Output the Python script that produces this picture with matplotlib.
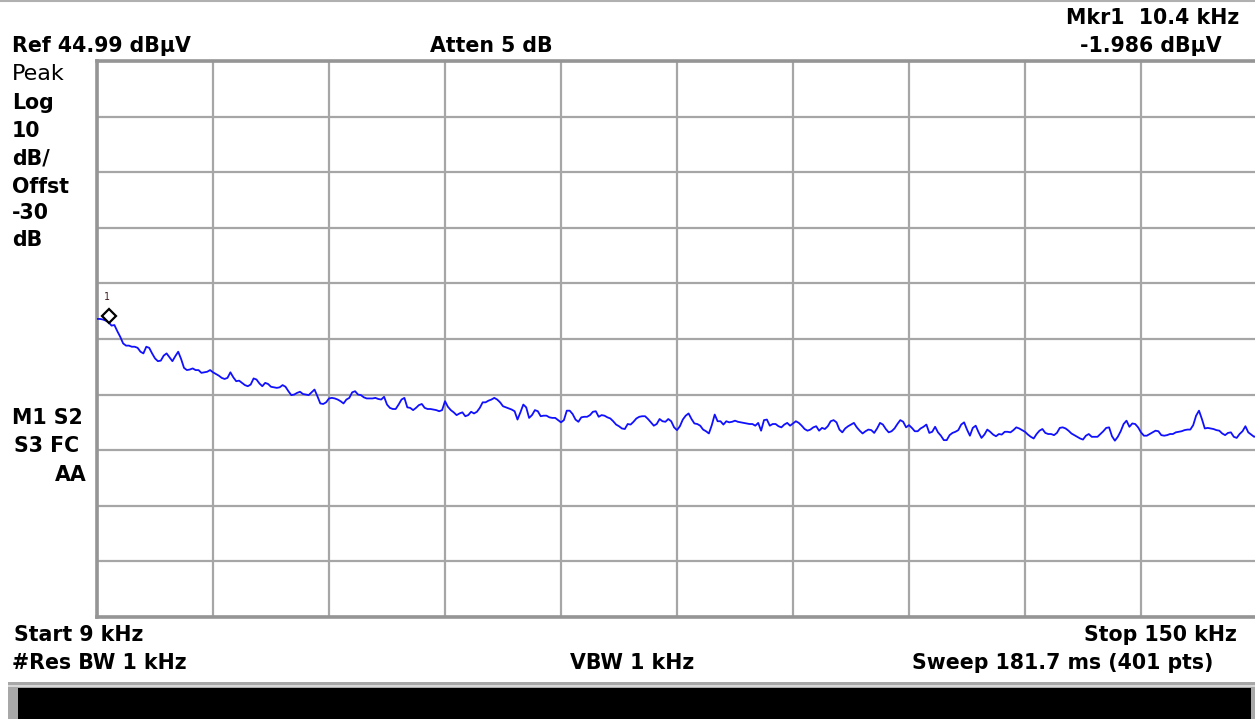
import numpy as np
import matplotlib
matplotlib.use("Agg")
import matplotlib.pyplot as plt
from matplotlib.patches import Rectangle
from matplotlib.lines import Line2D

# ---------------- data ----------------
start_khz = 9.0
stop_khz = 150.0
n_pts = 401
ref_level = 44.99          # dBuV (top of screen)
db_per_div = 10.0
n_div = 10
marker_freq = 10.4         # kHz
marker_level = -1.986      # dBuV

trace_part1 = [
    -1.4, -1.4, -1.5, -1.7, -1.99, -2.6, -2.5, -3.6, -4.6, -5.8,
    -6.2, -6.2, -6.4, -6.4, -6.6, -7.3, -7.6, -6.4, -6.6, -7.6,
    -8.5, -9.0, -8.9, -8.0, -7.6, -8.3, -9.0, -8.1, -7.3, -8.6,
    -10.2, -10.6, -10.5, -10.3, -10.6, -10.6, -11.1, -11.0, -10.9, -10.6,
    -11.0, -11.3, -11.6, -12.0, -12.2, -12.0, -11.0, -11.9, -12.6, -12.5,
    -12.9, -13.3, -13.5, -13.2, -12.1, -12.3, -13.0, -13.5, -12.9, -13.1,
    -13.6, -13.7, -13.8, -13.7, -13.3, -13.6, -14.4, -15.1, -15.0, -14.7,
    -14.5, -14.9, -15.0, -15.1, -14.6, -14.1, -15.3, -16.6, -16.7, -16.4,
    -15.7, -15.6, -15.7, -15.9, -16.2, -16.6, -15.9, -15.6, -14.6, -14.4,
    -15.0, -15.1, -15.5, -15.7, -15.7, -15.7, -15.6, -15.8, -15.9, -15.4,
]
trace_part2 = [
    -16.8, -17.4, -17.6, -17.6, -16.8, -15.9, -15.6, -17.3, -17.4, -17.8,
    -17.4, -16.9, -16.7, -17.4, -17.6, -17.6, -17.7, -17.8, -18.0, -17.8,
    -16.2, -17.2, -17.8, -18.2, -18.7, -18.4, -18.2, -18.9, -18.7, -18.1,
    -18.4, -18.1, -17.4, -16.4, -16.4, -16.1, -15.9, -15.6, -15.9, -16.4,
    -17.1, -17.3, -17.5, -17.7, -18.0, -19.5, -18.2, -16.8, -17.3, -19.2,
    -18.7, -17.8, -18.0, -18.9, -18.8, -18.8, -19.1, -19.2, -19.2, -19.6,
    -20.0, -19.6, -17.9, -17.9, -18.5, -19.5, -19.9, -19.1, -19.0, -19.0,
    -18.7, -18.1, -18.0, -19.0, -18.7, -18.8, -19.1, -19.3, -19.8, -20.4,
    -20.7, -21.1, -21.2, -20.3, -20.4, -19.9, -19.3, -19.0, -18.9, -18.9,
    -19.4, -20.0, -20.6, -20.3, -19.4, -19.8, -19.9,
]
trace_part3 = [
    -19.4, -19.8, -20.9, -21.4, -20.7, -19.5, -18.8, -18.4, -19.4, -20.2,
    -20.3, -20.6, -21.3, -21.6, -22.0, -20.5, -18.6, -19.8, -19.8, -20.4,
    -19.8, -20.0, -19.9, -19.7, -19.9, -20.0, -20.1, -20.2, -20.3, -20.3,
    -20.6, -20.1, -21.5, -19.6, -19.5, -20.6, -20.3, -20.3, -20.7, -20.9,
    -20.4, -20.1, -20.6, -20.2, -19.8, -20.1, -20.6, -21.2, -21.5, -21.3,
    -20.9, -20.7, -21.5, -21.0, -21.2, -20.7, -19.8, -19.6, -20.0, -21.3,
    -21.8, -21.1, -20.7, -20.4, -20.1, -20.9, -21.5, -22.0, -21.6, -21.3,
    -21.4, -21.9, -21.1, -20.1, -20.4, -21.2, -21.8, -21.6, -21.1, -20.3,
    -19.6, -19.9, -20.9, -20.5, -21.0, -21.6, -21.6, -21.1, -20.8, -20.4,
    -21.9, -21.7, -20.8, -21.8, -22.4, -23.2, -23.2, -22.3, -21.9, -21.7,
    -21.4,
]
trace_part4 = [
    -20.4, -20.0, -21.3, -22.4, -21.0, -20.6, -21.8, -22.8, -22.2, -21.3,
    -21.7, -22.2, -22.5, -22.1, -22.2, -21.7, -21.7, -21.8, -21.4, -20.9,
    -21.1, -21.4, -21.7, -22.2, -22.6, -22.9, -22.1, -21.5, -21.2, -21.9,
    -22.1, -22.1, -22.3, -21.9, -21.0, -20.9, -21.1, -21.5, -22.0, -22.3,
    -22.6, -22.9, -23.1, -22.4, -22.1, -22.6, -22.6, -22.6, -22.1, -21.6,
    -21.0, -20.9, -22.5, -23.3, -22.6, -21.6, -20.3, -19.7, -20.8, -20.2,
    -20.3, -20.9, -21.8, -22.4, -22.4, -22.1, -21.8, -21.5, -21.6, -22.3,
    -22.4, -22.3, -22.1, -22.1, -21.8, -21.7, -21.6, -21.4, -21.3, -21.3,
    -20.5, -18.8, -17.9, -19.4, -21.1, -21.0, -21.1, -21.2, -21.4, -21.5,
    -22.0, -22.3, -21.9, -21.8, -22.6, -22.8, -22.1, -21.6, -20.7, -21.8,
    -22.2, -22.6, -22.4,
]
trace_db = np.array(trace_part1 + trace_part2 + trace_part3 + trace_part4)
freq_khz = np.linspace(start_khz, stop_khz, n_pts)

# ---------------- figure ----------------
W, H = 1255, 719
DPI = 100
fig = plt.figure(figsize=(W / DPI, H / DPI), dpi=DPI)
fig.patch.set_facecolor("white")

def fx(px):
    return px / W

def fy(py):
    return 1 - py / H

ax_l, ax_r, ax_t, ax_b = 97, 1257, 61, 617
ax = fig.add_axes([fx(ax_l), fy(ax_b), fx(ax_r - ax_l), (ax_b - ax_t) / H])
ax.set_xlim(start_khz, stop_khz)
bottom = ref_level - db_per_div * n_div
ax.set_ylim(bottom, ref_level)
ax.set_xticks(np.linspace(start_khz, stop_khz, n_div + 1))
ax.set_yticks(np.linspace(bottom, ref_level, n_div + 1))
ax.tick_params(length=0, labelbottom=False, labelleft=False)
ax.grid(True, color="#a6a6a6", linewidth=1.6)
for side, sp in ax.spines.items():
    sp.set_color("#959595")
    sp.set_linewidth(2.6)
ax.spines["right"].set_visible(False)

ax.plot(freq_khz, trace_db, color="#1010ff", linewidth=1.3, zorder=3)

# marker
ax.plot([marker_freq], [marker_level + 1.2], marker="D", markersize=7,
        markerfacecolor="white", markeredgecolor="black", markeredgewidth=1.6,
        zorder=5, clip_on=False)
ax.text(marker_freq - 0.2, marker_level + 4.6, "1", fontsize=7,
        family="DejaVu Sans Mono", color="#402020", ha="center", va="center")

# ---------------- texts ----------------
FONT = "DejaVu Sans"
FS = 14.8

def txt(x, y, s, ha="left", bold=True, fs=FS):
    fig.text(fx(x), fy(y), s, ha=ha, va="center", fontsize=fs,
             family=FONT, fontweight="bold" if bold else "normal", color="black")

txt(12, 46, "Ref 44.99 dB\u00b5V")
txt(430, 46, "Atten 5 dB")
txt(1239, 18, "Mkr1  10.4 kHz", ha="right")
txt(1222, 46, "-1.986 dB\u00b5V", ha="right")
txt(12, 74, "Peak", bold=False, fs=16.0)
txt(12, 103, "Log")
txt(12, 131, "10")
txt(12, 159, "dB/")
txt(12, 187, "Offst")
txt(12, 213, "-30")
txt(12, 240, "dB")
txt(12, 418, "M1 S2")
txt(14, 446, "S3 FC")
txt(55, 475, "AA")
txt(14, 635, "Start 9 kHz")
txt(1237, 635, "Stop 150 kHz", ha="right")
txt(12, 663, "#Res BW 1 kHz")
txt(632, 663, "VBW 1 kHz", ha="center")
txt(1213, 663, "Sweep 181.7 ms (401 pts)", ha="right")

# ---------------- frame decorations ----------------
fig.add_artist(Line2D([0, 1], [fy(0.5), fy(0.5)], color="#b0b0b0", linewidth=1.5,
                      transform=fig.transFigure))
fig.add_artist(Rectangle((fx(8), fy(719)), fx(1255 - 8), 37 / H,
                         facecolor="#a8a8a8", edgecolor="none",
                         transform=fig.transFigure))
fig.add_artist(Rectangle((fx(8), fy(687)), fx(1255 - 8), 2 / H,
                         facecolor="#d8d8d8", edgecolor="none",
                         transform=fig.transFigure))
fig.add_artist(Rectangle((fx(18), fy(719)), fx(1251 - 18), 31 / H,
                         facecolor="black", edgecolor="none",
                         transform=fig.transFigure))

fig.savefig("out.png", dpi=DPI, facecolor="white")
